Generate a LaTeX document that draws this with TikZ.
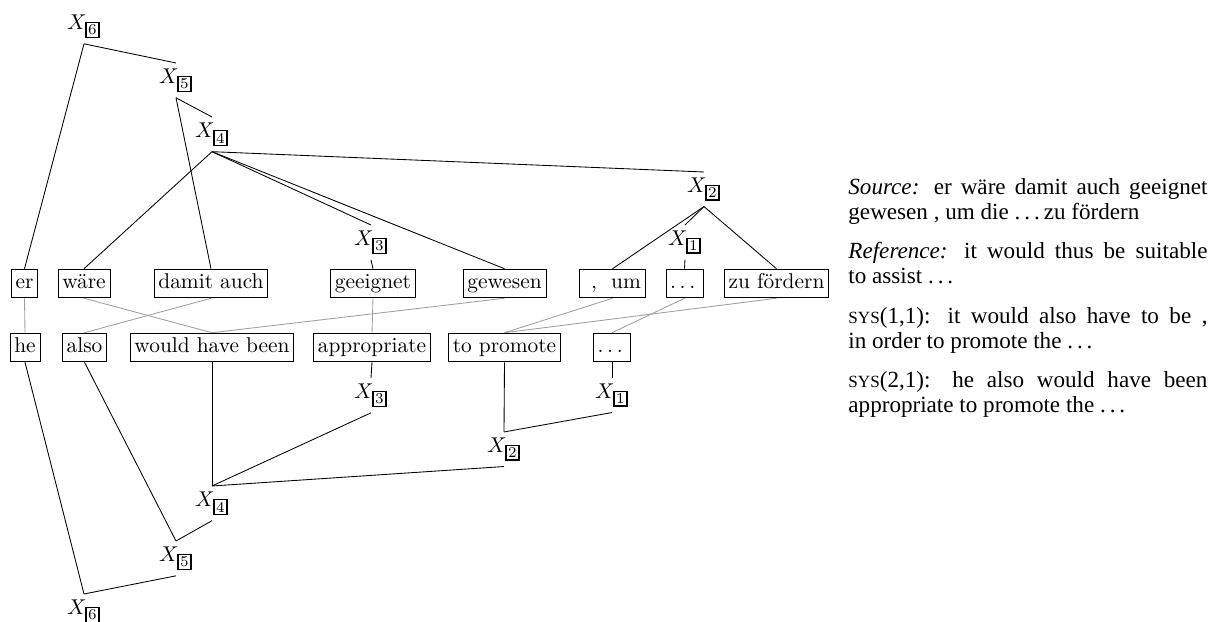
\documentclass[tikz,border=0pt]{standalone}
\usepackage{fontspec}
\newfontfamily\tms{Liberation Serif}
% boxed index used in the nonterminal labels
\newcommand\xl[1]{$X_{\fboxsep=0.7pt\fboxrule=0.8pt\fbox{\scriptsize #1}}$}
% spaced ellipses
\newcommand\wdots{.\kern1.67pt.\kern1.67pt.\kern1.67pt}
\newcommand\tdots{.\kern.17em.\kern.17em.\kern.17em}
\newcommand\fakesc[1]{{\fontsize{8}{8}\selectfont #1}}
\begin{document}
\begin{tikzpicture}[x=0.4673pt,y=-0.4673pt,
  wbox/.style={draw, line width=0.4pt, inner xsep=2pt, inner ysep=2.2pt,
               text height=7pt, text depth=2pt},
  xn/.style={inner sep=2.35pt, anchor=north},
  tree/.style={draw=black, line width=0.4pt},
  alnk/.style={draw=black!38, line width=0.4pt}]
\useasboundingbox (0,0) rectangle (1211,622);

% source words
\node[wbox] (er)   at (24.5,283.5) {er};
\node[wbox] (wae)  at (84,283.5)   {wäre};
\node[wbox] (dam)  at (211,283.5)  {damit auch};
\node[wbox] (gee)  at (373,283.5)  {geeignet};
\node[wbox] (gew)  at (504.5,283.5){gewesen};
\node[wbox] (um)   at (612.5,283.5){\hspace{3.3pt},\hspace{6.6pt}um};
\node[wbox] (dde)  at (684.5,283.5){\wdots};
\node[wbox] (zuf)  at (776.5,283.5){zu fördern};

% target words
\node[wbox] (he)   at (25,347.5)   {he};
\node[wbox] (als)  at (84.5,347.5) {also};
\node[wbox] (whb)  at (212,347.5)  {would have been};
\node[wbox] (app)  at (372,347.5)  {appropriate};
\node[wbox] (tpr)  at (504.5,347.5){to promote};
\node[wbox] (den)  at (612,347.5)  {\wdots};

% source-side derivation
\node[xn] (s6) at (84,9)    {\xl{6}};
\node[xn] (s5) at (176,63)  {\xl{5}};
\node[xn] (s4) at (212,117) {\xl{4}};
\node[xn] (s3) at (371,225) {\xl{3}};
\node[xn] (s2) at (704,172) {\xl{2}};
\node[xn] (s1) at (685,225) {\xl{1}};

% target-side derivation
\node[xn] (t3) at (371,378) {\xl{3}};
\node[xn] (t1) at (612,378) {\xl{1}};
\node[xn] (t2) at (504,432) {\xl{2}};
\node[xn] (t4) at (212,486) {\xl{4}};
\node[xn] (t5) at (176,541) {\xl{5}};
\node[xn] (t6) at (84,594)  {\xl{6}};

% source tree edges
\draw[tree] (s6.south) -- (er.north);
\draw[tree] (s6.south) -- (s5.north);
\draw[tree] (s5.south) -- (s4.north);
\draw[tree] (s5.south) -- (dam.north);
\draw[tree] (s4.south) -- (wae.north);
\draw[tree] (s4.south) -- (s3.north);
\draw[tree] (s4.south) -- (gew.north);
\draw[tree] (s4.south) -- (s2.north);
\draw[tree] (s3.south) -- (gee.north);
\draw[tree] (s2.south) -- (um.north);
\draw[tree] (s2.south) -- (s1.north);
\draw[tree] (s2.south) -- (zuf.north);
\draw[tree] (s1.south) -- (dde.north);

% target tree edges
\draw[tree] (he.south)  -- (t6.north);
\draw[tree] (t5.south)  -- (t6.north);
\draw[tree] (als.south) -- (t5.north);
\draw[tree] (t4.south)  -- (t5.north);
\draw[tree] (whb.south) -- (t4.north);
\draw[tree] (t3.south)  -- (t4.north);
\draw[tree] (t2.south)  -- (t4.north);
\draw[tree] (app.south) -- (t3.north);
\draw[tree] (tpr.south) -- (t2.north);
\draw[tree] (t1.south)  -- (t2.north);
\draw[tree] (den.south) -- (t1.north);

% word alignment
\draw[alnk] (er.south)  -- (he.north);
\draw[alnk] (wae.south) -- (whb.north);
\draw[alnk] (dam.south) -- (als.north);
\draw[alnk] (gee.south) -- (app.north);
\draw[alnk] (gew.south) -- (whb.north);
\draw[alnk] (um.south)  -- (tpr.north);
\draw[alnk] (dde.south) -- (den.north);
\draw[alnk] (zuf.south) -- (tpr.north);

% sentences
\node[anchor=north west, inner sep=0pt, text width=167.8pt, align=justify,
      font=\tms\fontsize{10.8}{11.68}\selectfont] (txt) at (848,178)
{\setlength\parindent{0pt}%
\textit{Source:} er wäre damit auch geeignet\linebreak gewesen , um die \tdots zu fördern\par
\vspace{6.7pt}%
\textit{Reference:} it would thus be suitable\linebreak to assist \tdots\par
\vspace{6.7pt}%
\fakesc{SYS}(1,1): it would also have to be ,\linebreak in order to promote the \tdots\par
\vspace{6.7pt}%
\fakesc{SYS}(2,1): he also would have been\linebreak appropriate to promote the \tdots\par};
\end{tikzpicture}
\end{document}
